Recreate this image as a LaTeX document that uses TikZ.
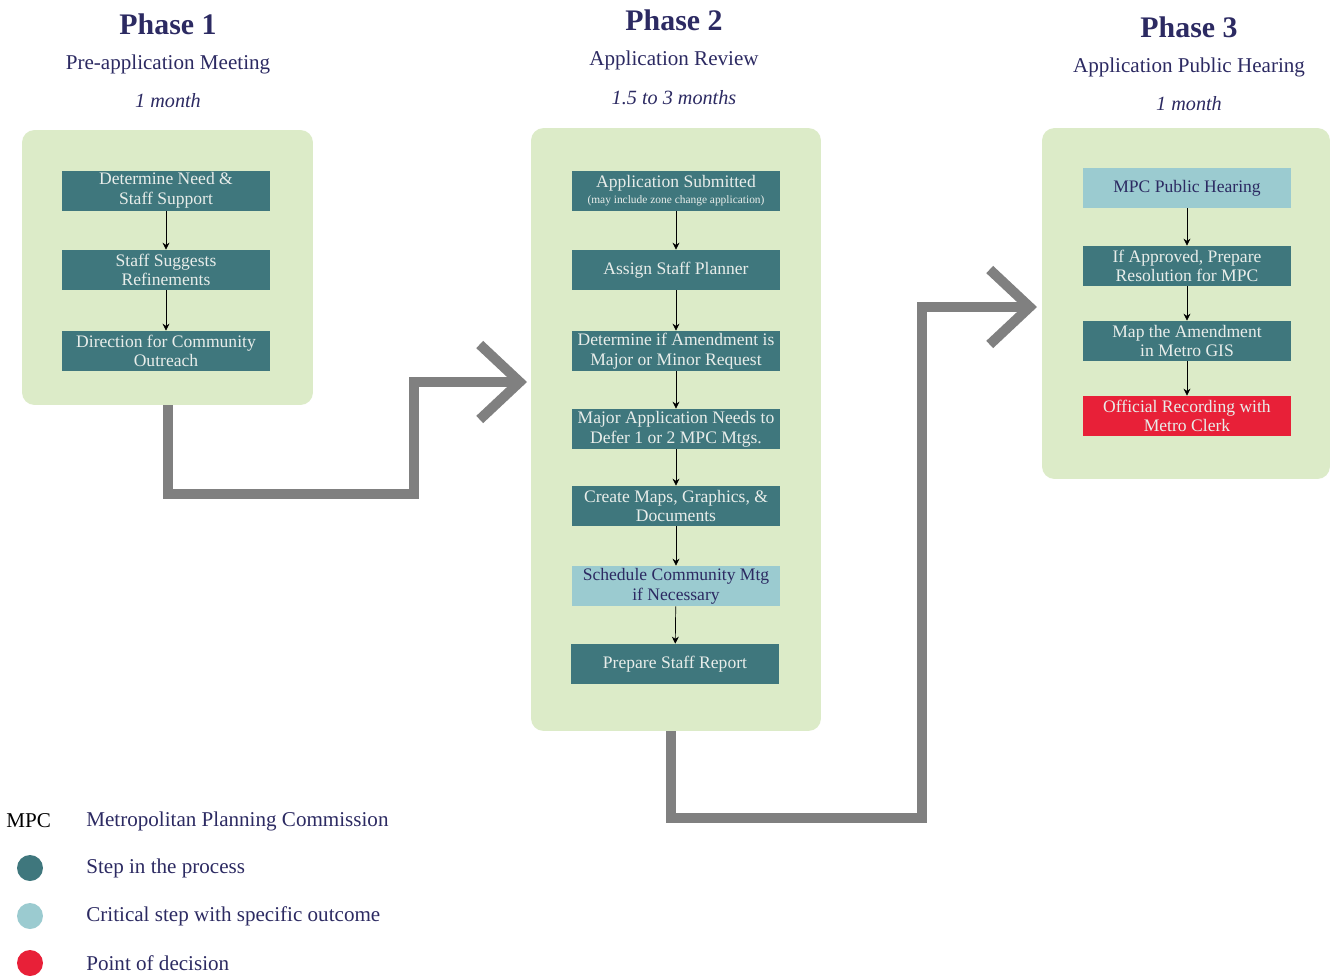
\documentclass[tikz,border=0pt]{standalone}
\usepackage{fontspec}
\setmainfont{Liberation Serif}
\usetikzlibrary{arrows.meta}

\definecolor{panelgreen}{HTML}{DCEBC8}
\definecolor{stepteal}{HTML}{3F777D}
\definecolor{critblue}{HTML}{9BCBD0}
\definecolor{decired}{HTML}{E82038}
\definecolor{navy}{HTML}{2C2A62}
\definecolor{boxtext}{HTML}{E8EDEA}
\definecolor{arrowgrey}{HTML}{808080}

\tikzset{
  panel/.style={fill=panelgreen, rounded corners=0.25cm, inner sep=0pt},
  stepbox/.style={fill=stepteal, text=boxtext, minimum width=4.16cm, minimum height=0.8cm,
    inner sep=0pt, align=center, font=\fontsize{10}{11.2}\selectfont},
  critbox/.style={stepbox, fill=critblue, text=navy},
  decibox/.style={stepbox, fill=decired},
  flow/.style={-{Stealth[length=4pt,width=4pt]}, black},
  bigarrow/.style={draw=arrowgrey, line width=0.2cm, -{Straight Barb[sharp,length=0.8cm,width=1.5cm]}},
  phasetitle/.style={text=navy, font=\fontsize{17}{20}\selectfont\bfseries},
  phasename/.style={text=navy, font=\fontsize{12}{14}\selectfont},
  phasetime/.style={text=navy, font=\fontsize{11.5}{14}\selectfont\itshape},
  legdot/.style={circle, minimum size=0.52cm, inner sep=0pt},
  legtext/.style={anchor=west, text=navy, inner sep=0pt, font=\fontsize{12}{15}\selectfont}
}

\begin{document}
\begin{tikzpicture}[x=0.02cm, y=-0.02cm]
        \useasboundingbox (0,0) rectangle (1330,978);

        \node[phasetitle] (t1) at (168,24) {Phase 1};
        \node[phasename]  (s1) at (168,64) {Pre-application Meeting};
        \node[phasetime]  (d1) at (168,101) {1 month};
        \node[phasetitle] (t2) at (674,20) {Phase 2};
        \node[phasename]  (s2) at (674,60) {Application Review};
        \node[phasetime]  (d2) at (674,98) {1.5 to 3 months};
        \node[phasetitle] (t3) at (1189,27) {Phase 3};
        \node[phasename]  (s3) at (1189,67) {Application Public Hearing};
        \node[phasetime]  (d3) at (1189,104) {1 month};

        \node[panel, minimum width=5.82cm, minimum height=5.5cm]   (p1) at (167.5,267.5) {};
        \node[panel, minimum width=5.8cm,  minimum height=12.06cm] (p2) at (676,429.5) {};
        \node[panel, minimum width=5.76cm, minimum height=7.02cm]  (p3) at (1186,303.5) {};

        \node[stepbox] (need)   at (166,190.5) {Determine Need \&\\Staff Support};
        \node[stepbox] (refine) at (166,270)   {Staff Suggests\\Refinements};
        \node[stepbox] (outr)   at (166,351)   {Direction for Community\\Outreach};

        \node[stepbox] (subm)   at (676,190.5) {Application Submitted\\[-2pt]{\fontsize{6.5}{7}\selectfont (may include zone change application)}};
        \node[stepbox] (plan)   at (676,270)   {Assign Staff Planner};
        \node[stepbox] (major)  at (676,351)   {Determine if Amendment is\\Major or Minor Request};
        \node[stepbox] (defer)  at (676,429)   {Major Application Needs to\\Defer 1 or 2 MPC Mtgs.};
        \node[stepbox] (maps)   at (676,506)   {Create Maps, Graphics, \&\\Documents};
        \node[critbox] (comm)   at (676,586)   {Schedule Community Mtg\\if Necessary};
        \node[stepbox] (report) at (675,664)   {Prepare Staff Report};

        \node[critbox] (hear)   at (1187,188)  {MPC Public Hearing};
        \node[stepbox] (resol)  at (1187,266)  {If Approved, Prepare\\Resolution for MPC};
        \node[stepbox] (gis)    at (1187,341)  {Map the Amendment\\in Metro GIS};
        \node[decibox] (clerk)  at (1187,416)  {Official Recording with\\Metro Clerk};

        \draw[flow] (need) -- (refine);
        \draw[flow] (refine) -- (outr);
        \draw[flow] (subm) -- (plan);
        \draw[flow] (plan) -- (major);
        \draw[flow] (major) -- (defer);
        \draw[flow] (defer) -- (maps);
        \draw[flow] (maps) -- (comm);
        \draw[flow] (comm) -- (report);
        \draw[flow] (hear) -- (resol);
        \draw[flow] (resol) -- (gis);
        \draw[flow] (gis) -- (clerk);

        \coordinate (in2) at (527,382);
        \coordinate (in3) at (1037,307);
        \draw[bigarrow] (p1.south) |- (414,494) |- (in2);
        \draw[bigarrow] (p2.south -| 671,0) |- (922,818) |- (in3);

        \node[anchor=west, inner sep=0pt, font=\fontsize{12}{15}\selectfont] (mpc) at (6,821) {MPC};
        \node[legtext] (mpcdef) at (86,821) {Metropolitan Planning Commission};
        \node[legdot, fill=stepteal] (dstep) at (30,868) {};
        \node[legtext] (lstep) at (86,868) {Step in the process};
        \node[legdot, fill=critblue] (dcrit) at (30,916) {};
        \node[legtext] (lcrit) at (86,916) {Critical step with specific outcome};
        \node[legdot, fill=decired] (ddeci) at (30,963) {};
        \node[legtext] (ldeci) at (86,963) {Point of decision};
      \end{tikzpicture}
\end{document}
